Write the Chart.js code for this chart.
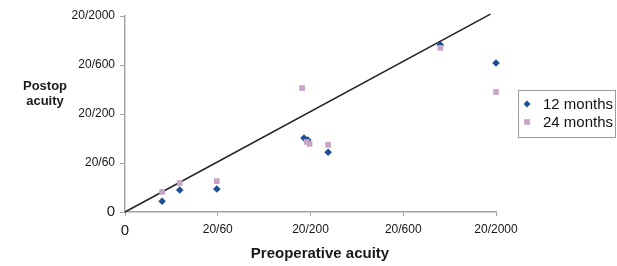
<!DOCTYPE html>
<html>
<head>
<meta charset="utf-8">
<script src="https://cdn.jsdelivr.net/npm/chart.js@4.4.0/dist/chart.umd.min.js"></script>
<style>
  html, body { margin: 0; padding: 0; background: #fff; }
  #wrap { width: 617px; height: 266px; position: relative; }
</style>
</head>
<body>
<div id="wrap"><canvas id="chart" width="617" height="266"></canvas></div>
<script>
// acuity scale: 0, 20/60, 20/200, 20/600, 20/2000 mapped to 0..4
const tickLabels = ['0', '20/60', '20/200', '20/600', '20/2000'];

const months12X = [0.40, 0.59, 0.99, 1.93, 1.97, 2.19, 3.40, 4.00];
const months12Y = [0.22, 0.45, 0.47, 1.51, 1.47, 1.22, 3.41, 3.04];

const months24X = [0.40, 0.59, 0.99, 1.91, 1.96, 1.99, 2.19, 3.40, 4.00];
const months24Y = [0.41, 0.59, 0.63, 2.53, 1.43, 1.39, 1.37, 3.35, 2.45];

const refLineX = [0, 3.94];
const refLineY = [0, 4.04];

const seriesNames = ['12 months', '24 months'];
const BLUE = '#1d4f97';
const PINK = '#c7a3c6';
const AXIS = '#a3a3a3';
const FONT = "'Liberation Sans', Arial, sans-serif";

const toPoints = (xs, ys) => xs.map((x, i) => ({ x, y: ys[i] }));

const tickFont = (ctx) => ctx.tick && ctx.tick.value === 0
  ? { family: FONT, size: 15 }
  : { family: FONT, size: 12 };

// axis titles + boxed legend
const extras = {
  id: 'extras',
  afterDraw(chart) {
    const { ctx } = chart;
    ctx.save();
    ctx.fillStyle = '#1a1a1a';
    ctx.textAlign = 'center';
    ctx.textBaseline = 'middle';
    ctx.font = `bold 15px ${FONT}`;
    ctx.fillText('Preoperative acuity', 320, 254);
    ctx.font = `bold 13px ${FONT}`;
    ctx.fillText('Postop', 45, 86);
    ctx.fillText('acuity', 45, 101);

    // legend
    ctx.strokeStyle = '#9a9a9a';
    ctx.lineWidth = 1;
    ctx.strokeRect(518.5, 90.5, 97, 47);
    const items = [
      { label: seriesNames[0], style: 'rectRot', color: BLUE, r: 3.5, y: 104 },
      { label: seriesNames[1], style: 'rect', color: PINK, r: 4, y: 122 }
    ];
    ctx.font = `15px ${FONT}`;
    ctx.textAlign = 'left';
    items.forEach(it => {
      ctx.fillStyle = it.color;
      ctx.strokeStyle = it.color;
      Chart.helpers.drawPoint(ctx, { pointStyle: it.style, radius: it.r, borderWidth: 0 }, 527, it.y);
      ctx.fillStyle = '#111';
      ctx.fillText(it.label, 543, it.y + 1);
    });
    ctx.restore();
  }
};

new Chart(document.getElementById('chart'), {
  data: {
    datasets: [
      {
        type: 'line',
        data: toPoints(refLineX, refLineY),
        borderColor: '#222',
        borderWidth: 1.5,
        pointRadius: 0,
        clip: false,
        order: 3
      },
      {
        type: 'scatter',
        label: seriesNames[0],
        data: toPoints(months12X, months12Y),
        pointStyle: 'rectRot',
        pointRadius: 3.8,
        backgroundColor: BLUE,
        borderColor: BLUE,
        borderWidth: 0,
        clip: false,
        order: 2
      },
      {
        type: 'scatter',
        label: seriesNames[1],
        data: toPoints(months24X, months24Y),
        pointStyle: 'rect',
        pointRadius: 4,
        backgroundColor: PINK,
        borderColor: PINK,
        borderWidth: 0,
        clip: false,
        order: 1
      }
    ]
  },
  options: {
    responsive: false,
    animation: false,
    layout: { padding: { top: 16, right: 121, left: 0, bottom: 0 } },
    plugins: { legend: { display: false }, tooltip: { enabled: false } },
    scales: {
      x: {
        type: 'linear',
        min: 0, max: 4,
        afterFit: (s) => { s.height = 54; },
        grid: { drawOnChartArea: false, drawTicks: true, tickLength: 4, color: AXIS },
        border: { color: AXIS, width: 1.5 },
        ticks: {
          stepSize: 1, autoSkip: false, maxRotation: 0, padding: 6,
          color: '#151515', font: tickFont,
          callback: (v) => tickLabels[v]
        }
      },
      y: {
        type: 'linear',
        min: 0, max: 4,
        afterFit: (s) => { s.width = 125; },
        grid: { drawOnChartArea: false, drawTicks: true, tickLength: 5, color: AXIS },
        border: { color: AXIS, width: 1.5 },
        ticks: {
          stepSize: 1, autoSkip: false, padding: 5,
          color: '#151515', font: tickFont,
          callback: (v) => tickLabels[v]
        }
      }
    }
  },
  plugins: [extras]
});
</script>
</body>
</html>
